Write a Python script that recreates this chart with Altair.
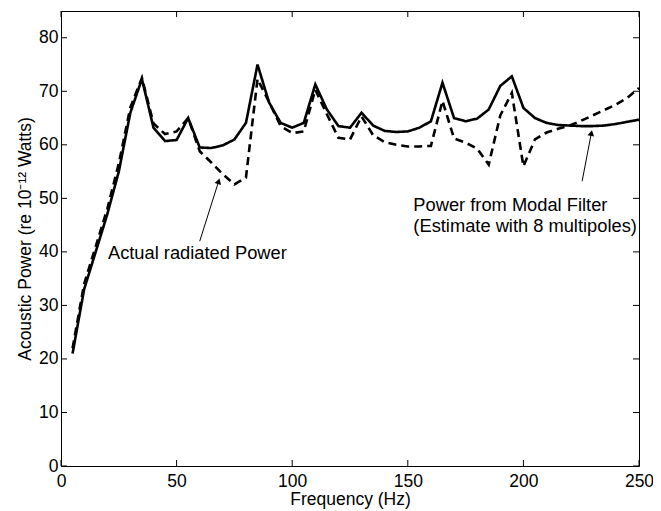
import altair as alt
import pandas as pd

# ---- data ----
freq = [5, 10, 15, 20, 25, 30, 35, 40, 45, 50,
        55, 60, 65, 70, 75, 80, 85, 90, 95, 100,
        105, 110, 115, 120, 125, 130, 135, 140, 145, 150,
        155, 160, 165, 170, 175, 180, 185, 190, 195, 200,
        205, 210, 215, 220, 225, 230, 235, 240, 245, 250]
modal_filter = [21, 33, 40, 47, 55, 66, 72.3, 63.2, 60.7, 60.9,
                65, 59.5, 59.4, 59.9, 61, 64.1, 75, 67.9, 64.1, 63.2,
                64.1, 71.3, 66.6, 63.5, 63.2, 66, 63.6, 62.6, 62.4, 62.5,
                63.2, 64.4, 71.6, 65, 64.4, 64.9, 66.6, 71, 72.8, 66.9,
                65, 64.1, 63.7, 63.6, 63.5, 63.5, 63.6, 63.9, 64.3, 64.7]
actual_power = [22, 34, 41, 48, 56.5, 67, 72.5, 64, 62, 62.5,
                65, 58.8, 56.7, 54.5, 52.6, 53.9, 72.3, 68, 63.5, 62.2,
                62.5, 70.3, 65.7, 61.3, 61, 65.3, 61.8, 60.5, 60, 59.7,
                59.7, 59.8, 68.2, 61.2, 60.4, 59.3, 56.3, 65.5, 69.7, 56,
                61, 62.3, 63, 63.6, 64.5, 65.5, 66.5, 67.5, 68.8, 70.6]
series_names = ["Power from Modal Filter", "Actual radiated Power"]

x_ticks = [0, 50, 100, 150, 200, 250]
y_ticks = [0, 10, 20, 30, 40, 50, 60, 70, 80]

# annotations (data coordinates)
label_text = ["Actual radiated Power", "Power from Modal Filter", "(Estimate with 8 multipoles)"]
label_x = [20.3, 152.4, 152.4]
label_y = [39.6, 48.5, 44.6]
arrow_x_tail = [60.0, 225.4]
arrow_y_tail = [42.0, 53.2]
arrow_x_tip = [68.2, 229.4]
arrow_y_tip = [53.2, 62.2]
arrow_angle = [17, 11]

# ---- chart ----
W, H = 578, 455
FONT = "Liberation Sans"
FS = 17.5
FS_ANN = 18.3

df = pd.DataFrame({
    "freq": freq * 2,
    "power": modal_filter + actual_power,
    "series": [series_names[0]] * len(freq) + [series_names[1]] * len(freq),
})

xs = alt.Scale(domain=[0, 250], nice=False, zero=False)
ys = alt.Scale(domain=[0, 85], nice=False)
x_axis = alt.Axis(values=x_ticks, title="Frequency (Hz)", labelPadding=6,
                  titlePadding=1, labelFlush=False)
y_axis = alt.Axis(values=y_ticks, title="Acoustic Power (re 10\u207b\u00b9\u00b2 Watts)",
                  labelPadding=3, titlePadding=4, labelFlush=False)


def X(field):
    return alt.X(field, scale=xs, axis=x_axis)


def Y(field):
    return alt.Y(field, scale=ys, axis=y_axis)


lines = alt.Chart(df).mark_line(color="black", strokeWidth=2.6).encode(
    x=X("freq:Q"),
    y=Y("power:Q"),
    strokeDash=alt.StrokeDash("series:N",
                              scale=alt.Scale(domain=series_names, range=[[1, 0], [8, 5]]),
                              legend=None),
    detail="series:N",
)

xt = pd.DataFrame({"v": x_ticks})
yt = pd.DataFrame({"v": y_ticks})
tick_len = 6
tb = alt.Chart(xt).mark_rule(color="black", strokeWidth=1).encode(
    x=X("v:Q"), y=alt.value(H), y2=alt.value(H - tick_len))
tt = alt.Chart(xt).mark_rule(color="black", strokeWidth=1).encode(
    x=X("v:Q"), y=alt.value(0), y2=alt.value(tick_len))
tl = alt.Chart(yt).mark_rule(color="black", strokeWidth=1).encode(
    y=Y("v:Q"), x=alt.value(0), x2=alt.value(tick_len))
tr = alt.Chart(yt).mark_rule(color="black", strokeWidth=1).encode(
    y=Y("v:Q"), x=alt.value(W), x2=alt.value(W - tick_len))

lab = pd.DataFrame({"t": label_text, "lx": label_x, "ly": label_y})
labels = alt.Chart(lab).mark_text(align="left", baseline="middle", font=FONT,
                                  fontSize=FS_ANN, color="black").encode(
    x=X("lx:Q"), y=Y("ly:Q"), text="t:N")

arr = pd.DataFrame({"x0": arrow_x_tail, "y0": arrow_y_tail,
                    "x1": arrow_x_tip, "y1": arrow_y_tip, "a": arrow_angle})
shafts = alt.Chart(arr).mark_rule(color="black", strokeWidth=1).encode(
    x=X("x0:Q"), y=Y("y0:Q"), x2="x1:Q", y2="y1:Q")
heads = alt.Chart(arr).mark_point(shape="triangle-up", filled=True, color="black",
                                  size=45, opacity=1).encode(
    x=X("x1:Q"), y=Y("y1:Q"), angle=alt.Angle("a:Q", scale=None))

chart = alt.layer(lines, tb, tt, tl, tr, labels, shafts, heads).properties(
    width=W, height=H,
    autosize=alt.AutoSizeParams(type="none"),
    padding={"left": 53, "top": 3, "right": 14, "bottom": 43},
    background="white",
).configure_view(stroke="black", strokeWidth=1).configure_axis(
    grid=False, domain=False, ticks=False,
    labelFont=FONT, titleFont=FONT, labelFontSize=FS, titleFontSize=FS,
    labelColor="black", titleColor="black", titleFontWeight="normal",
)

chart.save("out.html", embed_options={"renderer": "svg", "actions": False})
